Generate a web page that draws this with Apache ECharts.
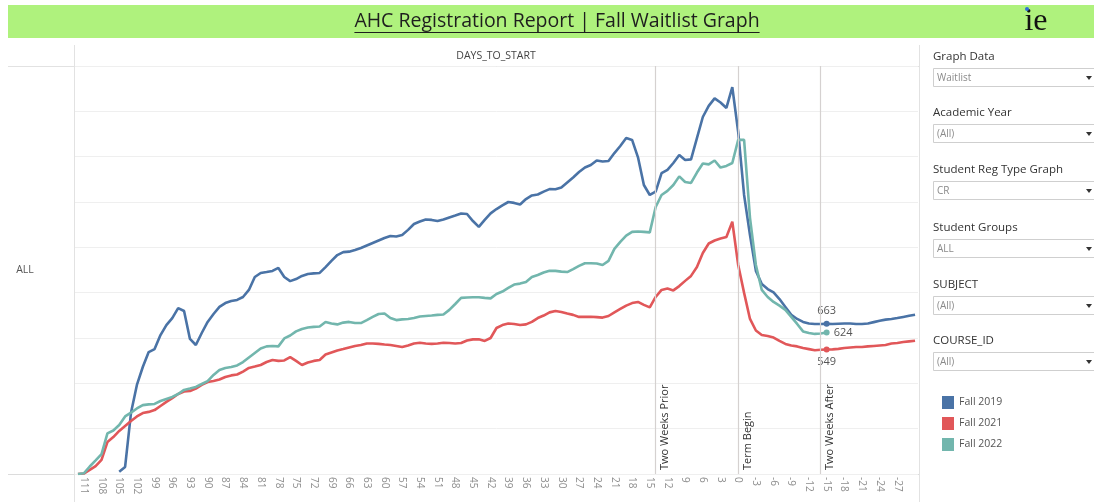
<!DOCTYPE html>
<html>
<head>
<meta charset="utf-8">
<script src="https://cdn.jsdelivr.net/npm/echarts@6/dist/echarts.min.js"></script>
<style>
  html, body { margin: 0; padding: 0; background: #fff; }
  #main { width: 1094px; height: 502px; }
</style>
</head>
<body>
<div id="main"></div>
<script>
// categories: days to term start, 112 down to -30
var days = []
for (var d = 112; d >= -30; d--) days.push(String(d))

// tick labels that the header shows (every third day)
var labelDays = [
  '111', '108', '105', '102', '99', '96', '93', '90', '87', '84', '81', '78', '75', '72',
  '69', '66', '63', '60', '57', '54', '51', '48', '45', '42', '39', '36', '33', '30',
  '27', '24', '21', '18', '15', '12', '9', '6', '3', '0', '-3', '-6', '-9', '-12',
  '-15', '-18', '-21', '-24', '-27'
]

// waitlist counts, one value per day (112 .. -30)
var fall2019 = [
  null, null, null, null, null, null, null, 10, 31, 270,
  393, 472, 538, 551, 613, 657, 688, 732, 719, 596,
  569, 622, 671, 706, 737, 754, 763, 768, 781, 812,
  869, 887, 891, 896, 909, 869, 851, 860, 874, 882,
  885, 887, 913, 940, 966, 979, 981, 988, 997, 1008,
  1019, 1030, 1041, 1050, 1048, 1054, 1077, 1103, 1114, 1123,
  1121, 1116, 1123, 1132, 1140, 1149, 1147, 1116, 1090, 1121,
  1150, 1169, 1185, 1200, 1196, 1189, 1213, 1229, 1233, 1246,
  1257, 1256, 1264, 1286, 1308, 1332, 1352, 1363, 1383, 1379,
  1381, 1416, 1447, 1482, 1474, 1397, 1275, 1231, 1246, 1327,
  1342, 1372, 1407, 1385, 1388, 1482, 1575, 1624, 1657, 1639,
  1615, 1707, 1509, 1231, 1054, 896, 838, 816, 801, 772,
  737, 702, 684, 671, 664, 662, 662, 663, 662, 663,
  664, 664, 662, 662, 664, 670, 676, 681, 684, 688,
  693, 698, 703
]
var fall2021 = [
  0, 2, 18, 35, 62, 141, 163, 190, 212, 234,
  254, 269, 274, 282, 300, 318, 335, 353, 364, 366,
  377, 393, 406, 410, 417, 428, 435, 439, 452, 468,
  474, 481, 494, 503, 499, 501, 516, 499, 481, 492,
  499, 503, 527, 536, 545, 551, 558, 565, 569, 576,
  576, 574, 571, 569, 565, 560, 567, 576, 579, 576,
  574, 576, 579, 578, 576, 578, 589, 594, 594, 587,
  600, 644, 657, 664, 662, 657, 660, 671, 688, 699,
  713, 719, 715, 708, 702, 693, 693, 694, 692, 690,
  697, 713, 728, 743, 754, 759, 746, 735, 781, 812,
  818, 810, 829, 852, 874, 913, 975, 1017, 1030, 1039,
  1046, 1113, 922, 799, 684, 633, 613, 609, 602, 587,
  574, 567, 563, 556, 551, 546, 548, 549, 550, 552,
  556, 558, 560, 560, 563, 565, 567, 569, 576, 578,
  582, 585, 588
]
var fall2022 = [
  0, 3, 33, 60, 88, 179, 192, 216, 254, 271,
  289, 304, 307, 309, 322, 331, 340, 353, 371, 377,
  384, 397, 410, 437, 459, 468, 472, 479, 494, 514,
  534, 554, 563, 565, 563, 598, 611, 629, 640, 646,
  649, 651, 671, 664, 660, 668, 671, 666, 666, 679,
  693, 706, 708, 688, 679, 682, 684, 688, 695, 697,
  699, 702, 704, 724, 750, 777, 779, 780, 780, 777,
  775, 794, 805, 821, 836, 840, 847, 869, 878, 889,
  897, 896, 893, 891, 904, 918, 930, 930, 929, 922,
  940, 993, 1024, 1052, 1068, 1070, 1068, 1066, 1178, 1231,
  1249, 1275, 1313, 1288, 1284, 1330, 1370, 1366, 1383, 1352,
  1359, 1372, 1474, 1474, 1130, 922, 812, 781, 759, 743,
  724, 693, 662, 629, 622, 618, 620, 624, null, null,
  null, null, null, null, null, null, null, null, null, null,
  null, null, null
]

var seriesNames = ['Fall 2019', 'Fall 2021', 'Fall 2022']
var refDays = ['14', '0', '-14']
var refNames = ['Two Weeks Prior', 'Term Begin', 'Two Weeks After']
var markDay = '-15'

var filterTitles = ['Graph Data', 'Academic Year', 'Student Reg Type Graph', 'Student Groups', 'SUBJECT', 'COURSE_ID']
var filterValues = ['Waitlist', '(All)', 'CR', 'ALL', '(All)', '(All)']

var titleText = 'AHC Registration Report | Fall Waitlist Graph'
var FONT = '"Open Sans", "Noto Sans", sans-serif'
var TITLE_SIZE = 19.5

var myChart = echarts.init(document.getElementById('main'))
var markIdx = days.indexOf(markDay)

function makeSeries(name, data, color, labelPos) {
  return {
    name: name,
    type: 'line',
    data: data,
    color: color,
    symbol: 'circle',
    showSymbol: true,
    showAllSymbol: true,
    symbolSize: function (v, p) {
      return p.dataIndex === markIdx ? 6 : 0
    },
    lineStyle: { width: 2.6, color: color },
    itemStyle: { color: color },
    label: {
      show: true,
      position: labelPos,
      distance: 4,
      color: '#555',
      fontSize: 11,
      fontFamily: FONT,
      formatter: function (p) {
        return p.dataIndex === markIdx ? String(p.value) : ''
      },
    },
    emphasis: { disabled: true },
    silent: true,
  }
}

var lineY = [
  makeSeries(seriesNames[0], fall2019, '#4a73a6', 'top'),
  makeSeries(seriesNames[1], fall2021, '#e15759', 'bottom'),
  makeSeries(seriesNames[2], fall2022, '#72b6ad', 'right'),
]
// reference lines, label on the right of each line
lineY[0].markLine = {
  silent: true,
  symbol: 'none',
  animation: false,
  lineStyle: { color: '#d5d1d0', width: 1.2, type: 'solid' },
  label: {
    show: true,
    position: 'insideStartBottom',
    distance: 4,
    formatter: '{b}',
    color: '#333',
    fontSize: 11,
    fontFamily: FONT,
  },
  data: refDays.map(function (d, i) {
    return { xAxis: d, name: refNames[i] }
  }),
}

// width of the title, for the underline
var ctx = document.createElement('canvas').getContext('2d')
ctx.font = TITLE_SIZE + 'px ' + FONT
var tw = ctx.measureText(titleText).width

var graphic = [
  { type: 'rect', shape: { x: 8, y: 5, width: 1086, height: 33 }, style: { fill: '#aff27d' }, z: 0 },
  {
    type: 'text', x: 557, y: 21,
    style: { text: titleText, fill: '#1e1e1e', fontSize: TITLE_SIZE, fontFamily: FONT, align: 'center', verticalAlign: 'middle' },
  },
  { type: 'line', shape: { x1: 557 - tw / 2, y1: 32.5, x2: 557 + tw / 2, y2: 32.5 }, style: { stroke: '#1e1e1e', lineWidth: 1.2 } },
  {
    type: 'text', x: 1036, y: 22,
    style: { text: 'ie', fill: '#111', fontSize: 32, fontFamily: '"Liberation Serif", serif', align: 'center', verticalAlign: 'middle' },
  },
  { type: 'circle', shape: { cx: 1027, cy: 9, r: 2 }, style: { fill: '#2e6fd6' } },
  {
    type: 'text', x: 496, y: 56,
    style: { text: 'DAYS_TO_START', fill: '#444', fontSize: 10.5, fontFamily: FONT, align: 'center', verticalAlign: 'middle' },
  },
  {
    type: 'text', x: 25, y: 270,
    style: { text: 'ALL', fill: '#555', fontSize: 10.5, fontFamily: FONT, align: 'center', verticalAlign: 'middle' },
  },
  { type: 'line', shape: { x1: 8, y1: 66.5, x2: 919, y2: 66.5 }, style: { stroke: '#e2e2e2', lineWidth: 1 } },
  { type: 'line', shape: { x1: 8, y1: 474.5, x2: 919, y2: 474.5 }, style: { stroke: '#dcdcdc', lineWidth: 1 } },
  { type: 'line', shape: { x1: 74.5, y1: 45, x2: 74.5, y2: 502 }, style: { stroke: '#e2e2e2', lineWidth: 1 } },
  { type: 'line', shape: { x1: 919.5, y1: 45, x2: 919.5, y2: 502 }, style: { stroke: '#e2e2e2', lineWidth: 1 } },
]

// filter panel on the right
var filterTop = [57, 113, 170, 228, 285, 341]
filterTitles.forEach(function (t, i) {
  var y = filterTop[i]
  graphic.push({
    type: 'text', x: 933, y: y,
    style: { text: t, fill: '#333', fontSize: 11.5, fontFamily: FONT, verticalAlign: 'middle' },
  })
  graphic.push({
    type: 'rect', shape: { x: 933.5, y: y + 11.5, width: 170, height: 18 },
    style: { fill: '#fff', stroke: '#cfcfcf', lineWidth: 1 },
  })
  graphic.push({
    type: 'text', x: 937, y: y + 21,
    style: { text: filterValues[i], fill: '#8a8a8a', fontSize: 10, fontFamily: FONT, verticalAlign: 'middle' },
  })
  graphic.push({
    type: 'polygon', shape: { points: [[1086, y + 19], [1092, y + 19], [1089, y + 23]] },
    style: { fill: '#333' },
  })
})

var option = {
  backgroundColor: '#fff',
  animation: false,
  textStyle: { fontFamily: FONT },
  grid: { left: 75, right: 176, top: 66, bottom: 28, containLabel: false },
  legend: {
    data: seriesNames,
    orient: 'vertical',
    left: 937,
    top: 391,
    icon: 'rect',
    itemWidth: 12,
    itemHeight: 13,
    itemGap: 8,
    selectedMode: false,
    textStyle: { color: '#555', fontSize: 10.5, fontFamily: FONT },
  },
  xAxis: {
    type: 'category',
    data: days,
    boundaryGap: true,
    axisLine: { show: false },
    axisTick: { show: false },
    axisLabel: {
      rotate: -90,
      margin: 3,
      color: '#8e8e8e',
      fontSize: 10,
      fontFamily: FONT,
      interval: function (index, value) {
        return labelDays.indexOf(value) >= 0
      },
    },
  },
  yAxis: {
    type: 'value',
    min: 0,
    max: 1800,
    interval: 200,
    axisLabel: { show: false },
    axisLine: { show: false },
    axisTick: { show: false },
    splitLine: { lineStyle: { color: '#efefef', width: 1 } },
  },
  graphic: graphic,
  series: lineY,
}
myChart.setOption(option)
</script>
</body>
</html>
